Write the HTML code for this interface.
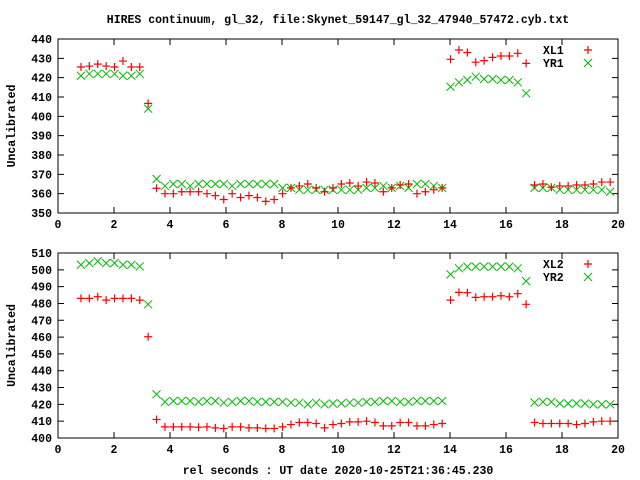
<!DOCTYPE html>
<html><head><meta charset="utf-8"><style>
body{margin:0;background:#fff}
svg{display:block}
text{font-family:"Liberation Mono","DejaVu Sans Mono",monospace;font-weight:bold;font-size:11.5px;fill:#000}
</style></head><body>
<svg id="chart" width="640" height="480" viewBox="0 0 640 480" xmlns="http://www.w3.org/2000/svg">
<rect width="640" height="480" fill="#fff"/>
<text x="338" y="23" text-anchor="middle">HIRES continuum, gl_32, file:Skynet_59147_gl_32_47940_57472.cyb.txt</text>
<text x="338" y="474" text-anchor="middle">rel seconds : UT date 2020-10-25T21:36:45.230</text>
<g id="p1"></g>
<g id="p2"></g>
</svg>
<script>
const times=[0.82,1.12,1.42,1.72,2.02,2.32,2.62,2.92,3.22,3.52,3.82,4.12,4.42,4.72,5.02,5.32,5.62,5.92,6.22,6.52,6.82,7.12,7.42,7.72,8.02,8.32,8.62,8.92,9.22,9.52,9.82,10.12,10.42,10.72,11.02,11.32,11.62,11.92,12.22,12.52,12.82,13.12,13.42,13.72,14.02,14.32,14.62,14.92,15.22,15.52,15.82,16.12,16.42,16.72,17.02,17.32,17.62,17.92,18.22,18.52,18.82,19.12,19.42,19.72];
const xl1=[425.5,426,427,426,425.5,428.6,425.5,425.5,406.7,362.8,360,360,361,361,361,360,359,357,360,358,359,358,356,357,360,363,364,365,363,361,363,365,365.5,364,366,365.5,361,363,364.5,365,360,361,362,363,429.5,434.3,433,428,428.8,430.5,431.2,431.2,432.6,427.4,364.5,365,363.3,364,364,364.5,364.5,365,366,366];
const yr1=[421,422,422,422,422,421,421,422,404,367.6,364,365,365,364,365,365,365,365,364,365,365,365,365,365,363,363,362,362,362,362,362,362,362,362,363,363,364,363,364,363,365,365,364,363,415.3,417.6,418.8,420.5,419.3,419.3,418.8,418.8,417.6,411.9,363,363,363,362,362,362,362,362,362,361];
const xl2v=[483,483,484,482,483,483,483,482,460.2,411,406.6,406.6,406.6,406.6,406.4,406.6,406,405.7,406.6,406.6,406,406,405.7,405.7,406.6,408,409.2,409.2,408.6,406,408,408.6,409.6,409.6,410,409.2,407.2,407.2,409.2,409.2,407.2,407.2,408,408.6,482,486.6,486.4,483.6,484,484,484.6,484,485.8,479.5,409.2,408.6,408.6,408.6,408.6,408,408.6,409.6,410,410];
const yr2=[503,504,505,504,504,503,503,502,479.5,426,421.5,422,422,422,421.5,422,422,421,421.5,422,422,421.5,421.5,421.5,421.5,421,421,420,421,420,420.5,420.5,421,421,421.5,421.5,422,422,421.5,421.5,422,422,422,422,497.3,500.9,501.9,501.9,501.9,501.9,501.9,501.9,500.9,493.3,421.1,421.5,421.5,420.5,420.5,420.5,420.5,420,420,420];
const xTicks=[0,2,4,6,8,10,12,14,16,18,20];
const yTicks1=[350,360,370,380,390,400,410,420,430,440];
const yTicks2=[400,410,420,430,440,450,460,470,480,490,500,510];
const NS='http://www.w3.org/2000/svg';
function mk(tag,attrs,parent){const e=document.createElementNS(NS,tag);for(const k in attrs)e.setAttribute(k,attrs[k]);parent.appendChild(e);return e;}
function panel(g,top,bot,ymin,ymax,yt,sA,sB,nA,nB,pfx){
  const L=58,R=618;
  const xs=v=>L+(v-0)/(20-0)*(R-L);
  const ys=v=>bot-(v-ymin)/(ymax-ymin)*(bot-top);
  const fr=mk('rect',{x:L,y:top,width:R-L,height:bot-top,fill:'none',stroke:'#000','stroke-width':1},g);
  
  
  xTicks.forEach(t=>{const x=xs(t);
    const tk=mk('path',{d:`M${x} ${bot}v-6M${x} ${top}v6`,stroke:'#000'},g);
    
    
    const tl=mk('text',{x:x,y:bot+15,'text-anchor':'middle'},g);tl.textContent=t;
    
    });
  yt.forEach(t=>{const y=ys(t);
    const tk=mk('path',{d:`M${L} ${y}h6M${R} ${y}h-6`,stroke:'#000'},g);
    
    
    const tl=mk('text',{x:L-6,y:y+4,'text-anchor':'end'},g);tl.textContent=t;
    
    });
  const yl=mk('text',{x:15,y:(top+bot)/2,'text-anchor':'middle',transform:`rotate(-90 15 ${(top+bot)/2})`},g);
  yl.textContent='Uncalibrated';
  
  
  function plus(x,y,nm){const p=mk('path',{d:`M${x-4} ${y}h8M${x} ${y-4}v8`,stroke:'#f00','stroke-width':1.2},g);
    
    }
  function cross(x,y,nm){const p=mk('path',{d:`M${x-4} ${y-4}l8 8M${x-4} ${y+4}l8 -8`,stroke:'#0b0','stroke-width':1},g);
    
    }
  times.forEach((t,i)=>{cross(xs(t),ys(sB[i]),pfx+'-'+nB.toLowerCase()+'-point');});
  times.forEach((t,i)=>{plus(xs(t),ys(sA[i]),pfx+'-'+nA.toLowerCase()+'-point');});
  const l1=mk('text',{x:543,y:top+15},g);l1.textContent=nA;
  
  
  plus(588,top+11,pfx+'-legend-marker-'+nA.toLowerCase());
  const l2=mk('text',{x:543,y:top+28},g);l2.textContent=nB;
  
  
  cross(588,top+24,pfx+'-legend-marker-'+nB.toLowerCase());
}
panel(document.getElementById('p1'),39,213,350,440,yTicks1,xl1,yr1,'XL1','YR1','top');
panel(document.getElementById('p2'),253,438,400,510,yTicks2,xl2v,yr2,'XL2','YR2','bottom');
</script>
</body></html>
